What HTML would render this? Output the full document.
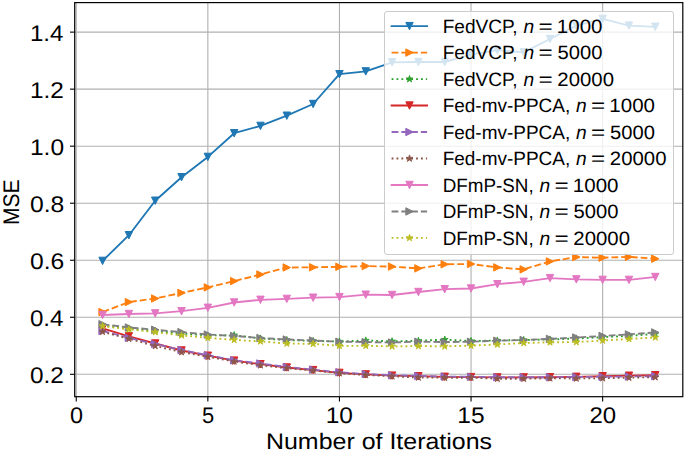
<!DOCTYPE html>
<html><head><meta charset="utf-8"><style>
html,body{margin:0;padding:0;background:#fff;}
body{width:685px;height:452px;overflow:hidden;font-family:"Liberation Sans",sans-serif;}
svg{display:block;}
</style></head><body>
<svg width="685" height="452" viewBox="0 0 685 452" text-rendering="geometricPrecision">
<rect width="685" height="452" fill="#fff"/>
<defs><clipPath id="ax"><rect x="74.7" y="2.6" width="608.0999999999999" height="394.09999999999997"/></clipPath></defs>
<g stroke="#b0b0b0" stroke-width="1.1" clip-path="url(#ax)">
<line x1="76.25" y1="2.6" x2="76.25" y2="396.7"/>
<line x1="207.85" y1="2.6" x2="207.85" y2="396.7"/>
<line x1="339.45" y1="2.6" x2="339.45" y2="396.7"/>
<line x1="471.05" y1="2.6" x2="471.05" y2="396.7"/>
<line x1="602.65" y1="2.6" x2="602.65" y2="396.7"/>
<line x1="74.7" y1="374.3" x2="682.8" y2="374.3"/>
<line x1="74.7" y1="317.27" x2="682.8" y2="317.27"/>
<line x1="74.7" y1="260.24" x2="682.8" y2="260.24"/>
<line x1="74.7" y1="203.21" x2="682.8" y2="203.21"/>
<line x1="74.7" y1="146.18" x2="682.8" y2="146.18"/>
<line x1="74.7" y1="89.15" x2="682.8" y2="89.15"/>
<line x1="74.7" y1="32.12" x2="682.8" y2="32.12"/>
</g>
<g clip-path="url(#ax)">
<path d="M102.57 260.9 L128.89 235.2 L155.21 200.7 L181.53 177.2 L207.85 156.9 L234.17 133.2 L260.49 125.9 L286.81 115.7 L313.13 104 L339.45 74.2 L365.77 71.4 L392.09 62.3 L418.41 62 L444.73 62 L471.05 54.7 L497.37 50.2 L523.69 52.3 L550.01 39 L576.33 25.7 L602.65 18.9 L628.97 25.6 L655.29 26.8" fill="none" stroke="#1f77b4" stroke-width="1.85" stroke-linejoin="round" stroke-linecap="square"/>
<polygon points="102.57,264.6 98.87,257.2 106.27,257.2" fill="#1f77b4" stroke="#1f77b4" stroke-width="1.0" stroke-linejoin="miter"/>
<polygon points="128.89,238.9 125.19,231.5 132.59,231.5" fill="#1f77b4" stroke="#1f77b4" stroke-width="1.0" stroke-linejoin="miter"/>
<polygon points="155.21,204.4 151.51,197 158.91,197" fill="#1f77b4" stroke="#1f77b4" stroke-width="1.0" stroke-linejoin="miter"/>
<polygon points="181.53,180.9 177.83,173.5 185.23,173.5" fill="#1f77b4" stroke="#1f77b4" stroke-width="1.0" stroke-linejoin="miter"/>
<polygon points="207.85,160.6 204.15,153.2 211.55,153.2" fill="#1f77b4" stroke="#1f77b4" stroke-width="1.0" stroke-linejoin="miter"/>
<polygon points="234.17,136.9 230.47,129.5 237.87,129.5" fill="#1f77b4" stroke="#1f77b4" stroke-width="1.0" stroke-linejoin="miter"/>
<polygon points="260.49,129.6 256.79,122.2 264.19,122.2" fill="#1f77b4" stroke="#1f77b4" stroke-width="1.0" stroke-linejoin="miter"/>
<polygon points="286.81,119.4 283.11,112 290.51,112" fill="#1f77b4" stroke="#1f77b4" stroke-width="1.0" stroke-linejoin="miter"/>
<polygon points="313.13,107.7 309.43,100.3 316.83,100.3" fill="#1f77b4" stroke="#1f77b4" stroke-width="1.0" stroke-linejoin="miter"/>
<polygon points="339.45,77.9 335.75,70.5 343.15,70.5" fill="#1f77b4" stroke="#1f77b4" stroke-width="1.0" stroke-linejoin="miter"/>
<polygon points="365.77,75.1 362.07,67.7 369.47,67.7" fill="#1f77b4" stroke="#1f77b4" stroke-width="1.0" stroke-linejoin="miter"/>
<polygon points="392.09,66 388.39,58.6 395.79,58.6" fill="#1f77b4" stroke="#1f77b4" stroke-width="1.0" stroke-linejoin="miter"/>
<polygon points="418.41,65.7 414.71,58.3 422.11,58.3" fill="#1f77b4" stroke="#1f77b4" stroke-width="1.0" stroke-linejoin="miter"/>
<polygon points="444.73,65.7 441.03,58.3 448.43,58.3" fill="#1f77b4" stroke="#1f77b4" stroke-width="1.0" stroke-linejoin="miter"/>
<polygon points="471.05,58.4 467.35,51 474.75,51" fill="#1f77b4" stroke="#1f77b4" stroke-width="1.0" stroke-linejoin="miter"/>
<polygon points="497.37,53.9 493.67,46.5 501.07,46.5" fill="#1f77b4" stroke="#1f77b4" stroke-width="1.0" stroke-linejoin="miter"/>
<polygon points="523.69,56 519.99,48.6 527.39,48.6" fill="#1f77b4" stroke="#1f77b4" stroke-width="1.0" stroke-linejoin="miter"/>
<polygon points="550.01,42.7 546.31,35.3 553.71,35.3" fill="#1f77b4" stroke="#1f77b4" stroke-width="1.0" stroke-linejoin="miter"/>
<polygon points="576.33,29.4 572.63,22 580.03,22" fill="#1f77b4" stroke="#1f77b4" stroke-width="1.0" stroke-linejoin="miter"/>
<polygon points="602.65,22.6 598.95,15.2 606.35,15.2" fill="#1f77b4" stroke="#1f77b4" stroke-width="1.0" stroke-linejoin="miter"/>
<polygon points="628.97,29.3 625.27,21.9 632.67,21.9" fill="#1f77b4" stroke="#1f77b4" stroke-width="1.0" stroke-linejoin="miter"/>
<polygon points="655.29,30.5 651.59,23.1 658.99,23.1" fill="#1f77b4" stroke="#1f77b4" stroke-width="1.0" stroke-linejoin="miter"/>
<path d="M102.57 312 L128.89 302.1 L155.21 298.5 L181.53 292.9 L207.85 287.4 L234.17 281.1 L260.49 274.5 L286.81 267.5 L313.13 267.3 L339.45 266.8 L365.77 266.1 L392.09 266.6 L418.41 268.4 L444.73 264.3 L471.05 264 L497.37 267.4 L523.69 269.4 L550.01 261.4 L576.33 257.1 L602.65 257.7 L628.97 256.9 L655.29 258.7" fill="none" stroke="#ff7f0e" stroke-width="1.85" stroke-linejoin="round" stroke-linecap="butt" stroke-dasharray="6.8 2.95"/>
<polygon points="106.27,312 98.87,308.3 98.87,315.7" fill="#ff7f0e" stroke="#ff7f0e" stroke-width="1.0" stroke-linejoin="miter"/>
<polygon points="132.59,302.1 125.19,298.4 125.19,305.8" fill="#ff7f0e" stroke="#ff7f0e" stroke-width="1.0" stroke-linejoin="miter"/>
<polygon points="158.91,298.5 151.51,294.8 151.51,302.2" fill="#ff7f0e" stroke="#ff7f0e" stroke-width="1.0" stroke-linejoin="miter"/>
<polygon points="185.23,292.9 177.83,289.2 177.83,296.6" fill="#ff7f0e" stroke="#ff7f0e" stroke-width="1.0" stroke-linejoin="miter"/>
<polygon points="211.55,287.4 204.15,283.7 204.15,291.1" fill="#ff7f0e" stroke="#ff7f0e" stroke-width="1.0" stroke-linejoin="miter"/>
<polygon points="237.87,281.1 230.47,277.4 230.47,284.8" fill="#ff7f0e" stroke="#ff7f0e" stroke-width="1.0" stroke-linejoin="miter"/>
<polygon points="264.19,274.5 256.79,270.8 256.79,278.2" fill="#ff7f0e" stroke="#ff7f0e" stroke-width="1.0" stroke-linejoin="miter"/>
<polygon points="290.51,267.5 283.11,263.8 283.11,271.2" fill="#ff7f0e" stroke="#ff7f0e" stroke-width="1.0" stroke-linejoin="miter"/>
<polygon points="316.83,267.3 309.43,263.6 309.43,271" fill="#ff7f0e" stroke="#ff7f0e" stroke-width="1.0" stroke-linejoin="miter"/>
<polygon points="343.15,266.8 335.75,263.1 335.75,270.5" fill="#ff7f0e" stroke="#ff7f0e" stroke-width="1.0" stroke-linejoin="miter"/>
<polygon points="369.47,266.1 362.07,262.4 362.07,269.8" fill="#ff7f0e" stroke="#ff7f0e" stroke-width="1.0" stroke-linejoin="miter"/>
<polygon points="395.79,266.6 388.39,262.9 388.39,270.3" fill="#ff7f0e" stroke="#ff7f0e" stroke-width="1.0" stroke-linejoin="miter"/>
<polygon points="422.11,268.4 414.71,264.7 414.71,272.1" fill="#ff7f0e" stroke="#ff7f0e" stroke-width="1.0" stroke-linejoin="miter"/>
<polygon points="448.43,264.3 441.03,260.6 441.03,268" fill="#ff7f0e" stroke="#ff7f0e" stroke-width="1.0" stroke-linejoin="miter"/>
<polygon points="474.75,264 467.35,260.3 467.35,267.7" fill="#ff7f0e" stroke="#ff7f0e" stroke-width="1.0" stroke-linejoin="miter"/>
<polygon points="501.07,267.4 493.67,263.7 493.67,271.1" fill="#ff7f0e" stroke="#ff7f0e" stroke-width="1.0" stroke-linejoin="miter"/>
<polygon points="527.39,269.4 519.99,265.7 519.99,273.1" fill="#ff7f0e" stroke="#ff7f0e" stroke-width="1.0" stroke-linejoin="miter"/>
<polygon points="553.71,261.4 546.31,257.7 546.31,265.1" fill="#ff7f0e" stroke="#ff7f0e" stroke-width="1.0" stroke-linejoin="miter"/>
<polygon points="580.03,257.1 572.63,253.4 572.63,260.8" fill="#ff7f0e" stroke="#ff7f0e" stroke-width="1.0" stroke-linejoin="miter"/>
<polygon points="606.35,257.7 598.95,254 598.95,261.4" fill="#ff7f0e" stroke="#ff7f0e" stroke-width="1.0" stroke-linejoin="miter"/>
<polygon points="632.67,256.9 625.27,253.2 625.27,260.6" fill="#ff7f0e" stroke="#ff7f0e" stroke-width="1.0" stroke-linejoin="miter"/>
<polygon points="658.99,258.7 651.59,255 651.59,262.4" fill="#ff7f0e" stroke="#ff7f0e" stroke-width="1.0" stroke-linejoin="miter"/>
<path d="M102.57 325.5 L128.89 328.5 L155.21 331 L181.53 333.5 L207.85 335.5 L234.17 335.2 L260.49 338.5 L286.81 340 L313.13 341 L339.45 341.5 L365.77 340.5 L392.09 341.3 L418.41 340.8 L444.73 339.6 L471.05 341 L497.37 340.5 L523.69 340 L550.01 339.5 L576.33 338.5 L602.65 337.2 L628.97 335.8 L655.29 334" fill="none" stroke="#2ca02c" stroke-width="1.85" stroke-linejoin="round" stroke-linecap="butt" stroke-dasharray="1.85 3.05"/>
<polygon points="102.57,321.9 101.76,324.39 99.15,324.39 101.26,325.92 100.45,328.41 102.57,326.88 104.69,328.41 103.88,325.92 105.99,324.39 103.38,324.39" fill="#2ca02c" stroke="#2ca02c" stroke-width="0.9" stroke-linejoin="round"/>
<polygon points="128.89,324.9 128.08,327.39 125.47,327.39 127.58,328.92 126.77,331.41 128.89,329.88 131.01,331.41 130.2,328.92 132.31,327.39 129.7,327.39" fill="#2ca02c" stroke="#2ca02c" stroke-width="0.9" stroke-linejoin="round"/>
<polygon points="155.21,327.4 154.4,329.89 151.79,329.89 153.9,331.42 153.09,333.91 155.21,332.38 157.33,333.91 156.52,331.42 158.63,329.89 156.02,329.89" fill="#2ca02c" stroke="#2ca02c" stroke-width="0.9" stroke-linejoin="round"/>
<polygon points="181.53,329.9 180.72,332.39 178.11,332.39 180.22,333.92 179.41,336.41 181.53,334.88 183.65,336.41 182.84,333.92 184.95,332.39 182.34,332.39" fill="#2ca02c" stroke="#2ca02c" stroke-width="0.9" stroke-linejoin="round"/>
<polygon points="207.85,331.9 207.04,334.39 204.43,334.39 206.54,335.92 205.73,338.41 207.85,336.88 209.97,338.41 209.16,335.92 211.27,334.39 208.66,334.39" fill="#2ca02c" stroke="#2ca02c" stroke-width="0.9" stroke-linejoin="round"/>
<polygon points="234.17,331.6 233.36,334.09 230.75,334.09 232.86,335.62 232.05,338.11 234.17,336.58 236.29,338.11 235.48,335.62 237.59,334.09 234.98,334.09" fill="#2ca02c" stroke="#2ca02c" stroke-width="0.9" stroke-linejoin="round"/>
<polygon points="260.49,334.9 259.68,337.39 257.07,337.39 259.18,338.92 258.37,341.41 260.49,339.88 262.61,341.41 261.8,338.92 263.91,337.39 261.3,337.39" fill="#2ca02c" stroke="#2ca02c" stroke-width="0.9" stroke-linejoin="round"/>
<polygon points="286.81,336.4 286,338.89 283.39,338.89 285.5,340.42 284.69,342.91 286.81,341.38 288.93,342.91 288.12,340.42 290.23,338.89 287.62,338.89" fill="#2ca02c" stroke="#2ca02c" stroke-width="0.9" stroke-linejoin="round"/>
<polygon points="313.13,337.4 312.32,339.89 309.71,339.89 311.82,341.42 311.01,343.91 313.13,342.38 315.25,343.91 314.44,341.42 316.55,339.89 313.94,339.89" fill="#2ca02c" stroke="#2ca02c" stroke-width="0.9" stroke-linejoin="round"/>
<polygon points="339.45,337.9 338.64,340.39 336.03,340.39 338.14,341.92 337.33,344.41 339.45,342.88 341.57,344.41 340.76,341.92 342.87,340.39 340.26,340.39" fill="#2ca02c" stroke="#2ca02c" stroke-width="0.9" stroke-linejoin="round"/>
<polygon points="365.77,336.9 364.96,339.39 362.35,339.39 364.46,340.92 363.65,343.41 365.77,341.88 367.89,343.41 367.08,340.92 369.19,339.39 366.58,339.39" fill="#2ca02c" stroke="#2ca02c" stroke-width="0.9" stroke-linejoin="round"/>
<polygon points="392.09,337.7 391.28,340.19 388.67,340.19 390.78,341.72 389.97,344.21 392.09,342.68 394.21,344.21 393.4,341.72 395.51,340.19 392.9,340.19" fill="#2ca02c" stroke="#2ca02c" stroke-width="0.9" stroke-linejoin="round"/>
<polygon points="418.41,337.2 417.6,339.69 414.99,339.69 417.1,341.22 416.29,343.71 418.41,342.18 420.53,343.71 419.72,341.22 421.83,339.69 419.22,339.69" fill="#2ca02c" stroke="#2ca02c" stroke-width="0.9" stroke-linejoin="round"/>
<polygon points="444.73,336 443.92,338.49 441.31,338.49 443.42,340.02 442.61,342.51 444.73,340.98 446.85,342.51 446.04,340.02 448.15,338.49 445.54,338.49" fill="#2ca02c" stroke="#2ca02c" stroke-width="0.9" stroke-linejoin="round"/>
<polygon points="471.05,337.4 470.24,339.89 467.63,339.89 469.74,341.42 468.93,343.91 471.05,342.38 473.17,343.91 472.36,341.42 474.47,339.89 471.86,339.89" fill="#2ca02c" stroke="#2ca02c" stroke-width="0.9" stroke-linejoin="round"/>
<polygon points="497.37,336.9 496.56,339.39 493.95,339.39 496.06,340.92 495.25,343.41 497.37,341.88 499.49,343.41 498.68,340.92 500.79,339.39 498.18,339.39" fill="#2ca02c" stroke="#2ca02c" stroke-width="0.9" stroke-linejoin="round"/>
<polygon points="523.69,336.4 522.88,338.89 520.27,338.89 522.38,340.42 521.57,342.91 523.69,341.38 525.81,342.91 525,340.42 527.11,338.89 524.5,338.89" fill="#2ca02c" stroke="#2ca02c" stroke-width="0.9" stroke-linejoin="round"/>
<polygon points="550.01,335.9 549.2,338.39 546.59,338.39 548.7,339.92 547.89,342.41 550.01,340.88 552.13,342.41 551.32,339.92 553.43,338.39 550.82,338.39" fill="#2ca02c" stroke="#2ca02c" stroke-width="0.9" stroke-linejoin="round"/>
<polygon points="576.33,334.9 575.52,337.39 572.91,337.39 575.02,338.92 574.21,341.41 576.33,339.88 578.45,341.41 577.64,338.92 579.75,337.39 577.14,337.39" fill="#2ca02c" stroke="#2ca02c" stroke-width="0.9" stroke-linejoin="round"/>
<polygon points="602.65,333.6 601.84,336.09 599.23,336.09 601.34,337.62 600.53,340.11 602.65,338.58 604.77,340.11 603.96,337.62 606.07,336.09 603.46,336.09" fill="#2ca02c" stroke="#2ca02c" stroke-width="0.9" stroke-linejoin="round"/>
<polygon points="628.97,332.2 628.16,334.69 625.55,334.69 627.66,336.22 626.85,338.71 628.97,337.18 631.09,338.71 630.28,336.22 632.39,334.69 629.78,334.69" fill="#2ca02c" stroke="#2ca02c" stroke-width="0.9" stroke-linejoin="round"/>
<polygon points="655.29,330.4 654.48,332.89 651.87,332.89 653.98,334.42 653.17,336.91 655.29,335.38 657.41,336.91 656.6,334.42 658.71,332.89 656.1,332.89" fill="#2ca02c" stroke="#2ca02c" stroke-width="0.9" stroke-linejoin="round"/>
<path d="M102.57 328.5 L128.89 336.3 L155.21 343.5 L181.53 350.5 L207.85 355.7 L234.17 360.6 L260.49 364.2 L286.81 367.5 L313.13 370.1 L339.45 372.9 L365.77 374.4 L392.09 375.6 L418.41 376.2 L444.73 376.8 L471.05 377.1 L497.37 377.4 L523.69 377.4 L550.01 377.2 L576.33 376.8 L602.65 376.2 L628.97 375.7 L655.29 375.2" fill="none" stroke="#d62728" stroke-width="1.85" stroke-linejoin="round" stroke-linecap="square"/>
<polygon points="102.57,332.2 98.87,324.8 106.27,324.8" fill="#d62728" stroke="#d62728" stroke-width="1.0" stroke-linejoin="miter"/>
<polygon points="128.89,340 125.19,332.6 132.59,332.6" fill="#d62728" stroke="#d62728" stroke-width="1.0" stroke-linejoin="miter"/>
<polygon points="155.21,347.2 151.51,339.8 158.91,339.8" fill="#d62728" stroke="#d62728" stroke-width="1.0" stroke-linejoin="miter"/>
<polygon points="181.53,354.2 177.83,346.8 185.23,346.8" fill="#d62728" stroke="#d62728" stroke-width="1.0" stroke-linejoin="miter"/>
<polygon points="207.85,359.4 204.15,352 211.55,352" fill="#d62728" stroke="#d62728" stroke-width="1.0" stroke-linejoin="miter"/>
<polygon points="234.17,364.3 230.47,356.9 237.87,356.9" fill="#d62728" stroke="#d62728" stroke-width="1.0" stroke-linejoin="miter"/>
<polygon points="260.49,367.9 256.79,360.5 264.19,360.5" fill="#d62728" stroke="#d62728" stroke-width="1.0" stroke-linejoin="miter"/>
<polygon points="286.81,371.2 283.11,363.8 290.51,363.8" fill="#d62728" stroke="#d62728" stroke-width="1.0" stroke-linejoin="miter"/>
<polygon points="313.13,373.8 309.43,366.4 316.83,366.4" fill="#d62728" stroke="#d62728" stroke-width="1.0" stroke-linejoin="miter"/>
<polygon points="339.45,376.6 335.75,369.2 343.15,369.2" fill="#d62728" stroke="#d62728" stroke-width="1.0" stroke-linejoin="miter"/>
<polygon points="365.77,378.1 362.07,370.7 369.47,370.7" fill="#d62728" stroke="#d62728" stroke-width="1.0" stroke-linejoin="miter"/>
<polygon points="392.09,379.3 388.39,371.9 395.79,371.9" fill="#d62728" stroke="#d62728" stroke-width="1.0" stroke-linejoin="miter"/>
<polygon points="418.41,379.9 414.71,372.5 422.11,372.5" fill="#d62728" stroke="#d62728" stroke-width="1.0" stroke-linejoin="miter"/>
<polygon points="444.73,380.5 441.03,373.1 448.43,373.1" fill="#d62728" stroke="#d62728" stroke-width="1.0" stroke-linejoin="miter"/>
<polygon points="471.05,380.8 467.35,373.4 474.75,373.4" fill="#d62728" stroke="#d62728" stroke-width="1.0" stroke-linejoin="miter"/>
<polygon points="497.37,381.1 493.67,373.7 501.07,373.7" fill="#d62728" stroke="#d62728" stroke-width="1.0" stroke-linejoin="miter"/>
<polygon points="523.69,381.1 519.99,373.7 527.39,373.7" fill="#d62728" stroke="#d62728" stroke-width="1.0" stroke-linejoin="miter"/>
<polygon points="550.01,380.9 546.31,373.5 553.71,373.5" fill="#d62728" stroke="#d62728" stroke-width="1.0" stroke-linejoin="miter"/>
<polygon points="576.33,380.5 572.63,373.1 580.03,373.1" fill="#d62728" stroke="#d62728" stroke-width="1.0" stroke-linejoin="miter"/>
<polygon points="602.65,379.9 598.95,372.5 606.35,372.5" fill="#d62728" stroke="#d62728" stroke-width="1.0" stroke-linejoin="miter"/>
<polygon points="628.97,379.4 625.27,372 632.67,372" fill="#d62728" stroke="#d62728" stroke-width="1.0" stroke-linejoin="miter"/>
<polygon points="655.29,378.9 651.59,371.5 658.99,371.5" fill="#d62728" stroke="#d62728" stroke-width="1.0" stroke-linejoin="miter"/>
<path d="M102.57 331 L128.89 337.9 L155.21 344 L181.53 350 L207.85 355.2 L234.17 360.3 L260.49 363.5 L286.81 367 L313.13 369.6 L339.45 372.3 L365.77 374 L392.09 375.3 L418.41 376 L444.73 376.5 L471.05 376.8 L497.37 377.2 L523.69 377.3 L550.01 377.2 L576.33 377 L602.65 376.8 L628.97 376.5 L655.29 376.2" fill="none" stroke="#9467bd" stroke-width="1.85" stroke-linejoin="round" stroke-linecap="butt" stroke-dasharray="6.8 2.95"/>
<polygon points="106.27,331 98.87,327.3 98.87,334.7" fill="#9467bd" stroke="#9467bd" stroke-width="1.0" stroke-linejoin="miter"/>
<polygon points="132.59,337.9 125.19,334.2 125.19,341.6" fill="#9467bd" stroke="#9467bd" stroke-width="1.0" stroke-linejoin="miter"/>
<polygon points="158.91,344 151.51,340.3 151.51,347.7" fill="#9467bd" stroke="#9467bd" stroke-width="1.0" stroke-linejoin="miter"/>
<polygon points="185.23,350 177.83,346.3 177.83,353.7" fill="#9467bd" stroke="#9467bd" stroke-width="1.0" stroke-linejoin="miter"/>
<polygon points="211.55,355.2 204.15,351.5 204.15,358.9" fill="#9467bd" stroke="#9467bd" stroke-width="1.0" stroke-linejoin="miter"/>
<polygon points="237.87,360.3 230.47,356.6 230.47,364" fill="#9467bd" stroke="#9467bd" stroke-width="1.0" stroke-linejoin="miter"/>
<polygon points="264.19,363.5 256.79,359.8 256.79,367.2" fill="#9467bd" stroke="#9467bd" stroke-width="1.0" stroke-linejoin="miter"/>
<polygon points="290.51,367 283.11,363.3 283.11,370.7" fill="#9467bd" stroke="#9467bd" stroke-width="1.0" stroke-linejoin="miter"/>
<polygon points="316.83,369.6 309.43,365.9 309.43,373.3" fill="#9467bd" stroke="#9467bd" stroke-width="1.0" stroke-linejoin="miter"/>
<polygon points="343.15,372.3 335.75,368.6 335.75,376" fill="#9467bd" stroke="#9467bd" stroke-width="1.0" stroke-linejoin="miter"/>
<polygon points="369.47,374 362.07,370.3 362.07,377.7" fill="#9467bd" stroke="#9467bd" stroke-width="1.0" stroke-linejoin="miter"/>
<polygon points="395.79,375.3 388.39,371.6 388.39,379" fill="#9467bd" stroke="#9467bd" stroke-width="1.0" stroke-linejoin="miter"/>
<polygon points="422.11,376 414.71,372.3 414.71,379.7" fill="#9467bd" stroke="#9467bd" stroke-width="1.0" stroke-linejoin="miter"/>
<polygon points="448.43,376.5 441.03,372.8 441.03,380.2" fill="#9467bd" stroke="#9467bd" stroke-width="1.0" stroke-linejoin="miter"/>
<polygon points="474.75,376.8 467.35,373.1 467.35,380.5" fill="#9467bd" stroke="#9467bd" stroke-width="1.0" stroke-linejoin="miter"/>
<polygon points="501.07,377.2 493.67,373.5 493.67,380.9" fill="#9467bd" stroke="#9467bd" stroke-width="1.0" stroke-linejoin="miter"/>
<polygon points="527.39,377.3 519.99,373.6 519.99,381" fill="#9467bd" stroke="#9467bd" stroke-width="1.0" stroke-linejoin="miter"/>
<polygon points="553.71,377.2 546.31,373.5 546.31,380.9" fill="#9467bd" stroke="#9467bd" stroke-width="1.0" stroke-linejoin="miter"/>
<polygon points="580.03,377 572.63,373.3 572.63,380.7" fill="#9467bd" stroke="#9467bd" stroke-width="1.0" stroke-linejoin="miter"/>
<polygon points="606.35,376.8 598.95,373.1 598.95,380.5" fill="#9467bd" stroke="#9467bd" stroke-width="1.0" stroke-linejoin="miter"/>
<polygon points="632.67,376.5 625.27,372.8 625.27,380.2" fill="#9467bd" stroke="#9467bd" stroke-width="1.0" stroke-linejoin="miter"/>
<polygon points="658.99,376.2 651.59,372.5 651.59,379.9" fill="#9467bd" stroke="#9467bd" stroke-width="1.0" stroke-linejoin="miter"/>
<path d="M102.57 331.8 L128.89 338.8 L155.21 346 L181.53 352.1 L207.85 356.8 L234.17 361.5 L260.49 365.3 L286.81 368.2 L313.13 370.5 L339.45 373.2 L365.77 375 L392.09 376.3 L418.41 377.5 L444.73 377.7 L471.05 377.7 L497.37 378.7 L523.69 378.7 L550.01 378.3 L576.33 378.5 L602.65 378.2 L628.97 377.7 L655.29 377.2" fill="none" stroke="#8c564b" stroke-width="1.85" stroke-linejoin="round" stroke-linecap="butt" stroke-dasharray="1.85 3.05"/>
<polygon points="102.57,328.2 101.76,330.69 99.15,330.69 101.26,332.22 100.45,334.71 102.57,333.18 104.69,334.71 103.88,332.22 105.99,330.69 103.38,330.69" fill="#8c564b" stroke="#8c564b" stroke-width="0.9" stroke-linejoin="round"/>
<polygon points="128.89,335.2 128.08,337.69 125.47,337.69 127.58,339.22 126.77,341.71 128.89,340.18 131.01,341.71 130.2,339.22 132.31,337.69 129.7,337.69" fill="#8c564b" stroke="#8c564b" stroke-width="0.9" stroke-linejoin="round"/>
<polygon points="155.21,342.4 154.4,344.89 151.79,344.89 153.9,346.42 153.09,348.91 155.21,347.38 157.33,348.91 156.52,346.42 158.63,344.89 156.02,344.89" fill="#8c564b" stroke="#8c564b" stroke-width="0.9" stroke-linejoin="round"/>
<polygon points="181.53,348.5 180.72,350.99 178.11,350.99 180.22,352.52 179.41,355.01 181.53,353.48 183.65,355.01 182.84,352.52 184.95,350.99 182.34,350.99" fill="#8c564b" stroke="#8c564b" stroke-width="0.9" stroke-linejoin="round"/>
<polygon points="207.85,353.2 207.04,355.69 204.43,355.69 206.54,357.22 205.73,359.71 207.85,358.18 209.97,359.71 209.16,357.22 211.27,355.69 208.66,355.69" fill="#8c564b" stroke="#8c564b" stroke-width="0.9" stroke-linejoin="round"/>
<polygon points="234.17,357.9 233.36,360.39 230.75,360.39 232.86,361.92 232.05,364.41 234.17,362.88 236.29,364.41 235.48,361.92 237.59,360.39 234.98,360.39" fill="#8c564b" stroke="#8c564b" stroke-width="0.9" stroke-linejoin="round"/>
<polygon points="260.49,361.7 259.68,364.19 257.07,364.19 259.18,365.72 258.37,368.21 260.49,366.68 262.61,368.21 261.8,365.72 263.91,364.19 261.3,364.19" fill="#8c564b" stroke="#8c564b" stroke-width="0.9" stroke-linejoin="round"/>
<polygon points="286.81,364.6 286,367.09 283.39,367.09 285.5,368.62 284.69,371.11 286.81,369.58 288.93,371.11 288.12,368.62 290.23,367.09 287.62,367.09" fill="#8c564b" stroke="#8c564b" stroke-width="0.9" stroke-linejoin="round"/>
<polygon points="313.13,366.9 312.32,369.39 309.71,369.39 311.82,370.92 311.01,373.41 313.13,371.88 315.25,373.41 314.44,370.92 316.55,369.39 313.94,369.39" fill="#8c564b" stroke="#8c564b" stroke-width="0.9" stroke-linejoin="round"/>
<polygon points="339.45,369.6 338.64,372.09 336.03,372.09 338.14,373.62 337.33,376.11 339.45,374.58 341.57,376.11 340.76,373.62 342.87,372.09 340.26,372.09" fill="#8c564b" stroke="#8c564b" stroke-width="0.9" stroke-linejoin="round"/>
<polygon points="365.77,371.4 364.96,373.89 362.35,373.89 364.46,375.42 363.65,377.91 365.77,376.38 367.89,377.91 367.08,375.42 369.19,373.89 366.58,373.89" fill="#8c564b" stroke="#8c564b" stroke-width="0.9" stroke-linejoin="round"/>
<polygon points="392.09,372.7 391.28,375.19 388.67,375.19 390.78,376.72 389.97,379.21 392.09,377.68 394.21,379.21 393.4,376.72 395.51,375.19 392.9,375.19" fill="#8c564b" stroke="#8c564b" stroke-width="0.9" stroke-linejoin="round"/>
<polygon points="418.41,373.9 417.6,376.39 414.99,376.39 417.1,377.92 416.29,380.41 418.41,378.88 420.53,380.41 419.72,377.92 421.83,376.39 419.22,376.39" fill="#8c564b" stroke="#8c564b" stroke-width="0.9" stroke-linejoin="round"/>
<polygon points="444.73,374.1 443.92,376.59 441.31,376.59 443.42,378.12 442.61,380.61 444.73,379.08 446.85,380.61 446.04,378.12 448.15,376.59 445.54,376.59" fill="#8c564b" stroke="#8c564b" stroke-width="0.9" stroke-linejoin="round"/>
<polygon points="471.05,374.1 470.24,376.59 467.63,376.59 469.74,378.12 468.93,380.61 471.05,379.08 473.17,380.61 472.36,378.12 474.47,376.59 471.86,376.59" fill="#8c564b" stroke="#8c564b" stroke-width="0.9" stroke-linejoin="round"/>
<polygon points="497.37,375.1 496.56,377.59 493.95,377.59 496.06,379.12 495.25,381.61 497.37,380.08 499.49,381.61 498.68,379.12 500.79,377.59 498.18,377.59" fill="#8c564b" stroke="#8c564b" stroke-width="0.9" stroke-linejoin="round"/>
<polygon points="523.69,375.1 522.88,377.59 520.27,377.59 522.38,379.12 521.57,381.61 523.69,380.08 525.81,381.61 525,379.12 527.11,377.59 524.5,377.59" fill="#8c564b" stroke="#8c564b" stroke-width="0.9" stroke-linejoin="round"/>
<polygon points="550.01,374.7 549.2,377.19 546.59,377.19 548.7,378.72 547.89,381.21 550.01,379.68 552.13,381.21 551.32,378.72 553.43,377.19 550.82,377.19" fill="#8c564b" stroke="#8c564b" stroke-width="0.9" stroke-linejoin="round"/>
<polygon points="576.33,374.9 575.52,377.39 572.91,377.39 575.02,378.92 574.21,381.41 576.33,379.88 578.45,381.41 577.64,378.92 579.75,377.39 577.14,377.39" fill="#8c564b" stroke="#8c564b" stroke-width="0.9" stroke-linejoin="round"/>
<polygon points="602.65,374.6 601.84,377.09 599.23,377.09 601.34,378.62 600.53,381.11 602.65,379.58 604.77,381.11 603.96,378.62 606.07,377.09 603.46,377.09" fill="#8c564b" stroke="#8c564b" stroke-width="0.9" stroke-linejoin="round"/>
<polygon points="628.97,374.1 628.16,376.59 625.55,376.59 627.66,378.12 626.85,380.61 628.97,379.08 631.09,380.61 630.28,378.12 632.39,376.59 629.78,376.59" fill="#8c564b" stroke="#8c564b" stroke-width="0.9" stroke-linejoin="round"/>
<polygon points="655.29,373.6 654.48,376.09 651.87,376.09 653.98,377.62 653.17,380.11 655.29,378.58 657.41,380.11 656.6,377.62 658.71,376.09 656.1,376.09" fill="#8c564b" stroke="#8c564b" stroke-width="0.9" stroke-linejoin="round"/>
<path d="M102.57 315 L128.89 314 L155.21 313.4 L181.53 311.2 L207.85 307.8 L234.17 302.5 L260.49 299.8 L286.81 298.9 L313.13 297.7 L339.45 297.1 L365.77 294.7 L392.09 295 L418.41 292 L444.73 289.2 L471.05 288.5 L497.37 284.2 L523.69 281.8 L550.01 278.1 L576.33 279.4 L602.65 279.9 L628.97 279.9 L655.29 277" fill="none" stroke="#e377c2" stroke-width="1.85" stroke-linejoin="round" stroke-linecap="square"/>
<polygon points="102.57,318.7 98.87,311.3 106.27,311.3" fill="#e377c2" stroke="#e377c2" stroke-width="1.0" stroke-linejoin="miter"/>
<polygon points="128.89,317.7 125.19,310.3 132.59,310.3" fill="#e377c2" stroke="#e377c2" stroke-width="1.0" stroke-linejoin="miter"/>
<polygon points="155.21,317.1 151.51,309.7 158.91,309.7" fill="#e377c2" stroke="#e377c2" stroke-width="1.0" stroke-linejoin="miter"/>
<polygon points="181.53,314.9 177.83,307.5 185.23,307.5" fill="#e377c2" stroke="#e377c2" stroke-width="1.0" stroke-linejoin="miter"/>
<polygon points="207.85,311.5 204.15,304.1 211.55,304.1" fill="#e377c2" stroke="#e377c2" stroke-width="1.0" stroke-linejoin="miter"/>
<polygon points="234.17,306.2 230.47,298.8 237.87,298.8" fill="#e377c2" stroke="#e377c2" stroke-width="1.0" stroke-linejoin="miter"/>
<polygon points="260.49,303.5 256.79,296.1 264.19,296.1" fill="#e377c2" stroke="#e377c2" stroke-width="1.0" stroke-linejoin="miter"/>
<polygon points="286.81,302.6 283.11,295.2 290.51,295.2" fill="#e377c2" stroke="#e377c2" stroke-width="1.0" stroke-linejoin="miter"/>
<polygon points="313.13,301.4 309.43,294 316.83,294" fill="#e377c2" stroke="#e377c2" stroke-width="1.0" stroke-linejoin="miter"/>
<polygon points="339.45,300.8 335.75,293.4 343.15,293.4" fill="#e377c2" stroke="#e377c2" stroke-width="1.0" stroke-linejoin="miter"/>
<polygon points="365.77,298.4 362.07,291 369.47,291" fill="#e377c2" stroke="#e377c2" stroke-width="1.0" stroke-linejoin="miter"/>
<polygon points="392.09,298.7 388.39,291.3 395.79,291.3" fill="#e377c2" stroke="#e377c2" stroke-width="1.0" stroke-linejoin="miter"/>
<polygon points="418.41,295.7 414.71,288.3 422.11,288.3" fill="#e377c2" stroke="#e377c2" stroke-width="1.0" stroke-linejoin="miter"/>
<polygon points="444.73,292.9 441.03,285.5 448.43,285.5" fill="#e377c2" stroke="#e377c2" stroke-width="1.0" stroke-linejoin="miter"/>
<polygon points="471.05,292.2 467.35,284.8 474.75,284.8" fill="#e377c2" stroke="#e377c2" stroke-width="1.0" stroke-linejoin="miter"/>
<polygon points="497.37,287.9 493.67,280.5 501.07,280.5" fill="#e377c2" stroke="#e377c2" stroke-width="1.0" stroke-linejoin="miter"/>
<polygon points="523.69,285.5 519.99,278.1 527.39,278.1" fill="#e377c2" stroke="#e377c2" stroke-width="1.0" stroke-linejoin="miter"/>
<polygon points="550.01,281.8 546.31,274.4 553.71,274.4" fill="#e377c2" stroke="#e377c2" stroke-width="1.0" stroke-linejoin="miter"/>
<polygon points="576.33,283.1 572.63,275.7 580.03,275.7" fill="#e377c2" stroke="#e377c2" stroke-width="1.0" stroke-linejoin="miter"/>
<polygon points="602.65,283.6 598.95,276.2 606.35,276.2" fill="#e377c2" stroke="#e377c2" stroke-width="1.0" stroke-linejoin="miter"/>
<polygon points="628.97,283.6 625.27,276.2 632.67,276.2" fill="#e377c2" stroke="#e377c2" stroke-width="1.0" stroke-linejoin="miter"/>
<polygon points="655.29,280.7 651.59,273.3 658.99,273.3" fill="#e377c2" stroke="#e377c2" stroke-width="1.0" stroke-linejoin="miter"/>
<path d="M102.57 324.2 L128.89 327.5 L155.21 329.7 L181.53 332.1 L207.85 334.5 L234.17 335.9 L260.49 338 L286.81 339.5 L313.13 340.5 L339.45 341.7 L365.77 342.1 L392.09 342.5 L418.41 341.7 L444.73 342.1 L471.05 341.7 L497.37 340.7 L523.69 340 L550.01 338.9 L576.33 337.5 L602.65 335.9 L628.97 334.4 L655.29 332.4" fill="none" stroke="#7f7f7f" stroke-width="1.85" stroke-linejoin="round" stroke-linecap="butt" stroke-dasharray="6.8 2.95"/>
<polygon points="106.27,324.2 98.87,320.5 98.87,327.9" fill="#7f7f7f" stroke="#7f7f7f" stroke-width="1.0" stroke-linejoin="miter"/>
<polygon points="132.59,327.5 125.19,323.8 125.19,331.2" fill="#7f7f7f" stroke="#7f7f7f" stroke-width="1.0" stroke-linejoin="miter"/>
<polygon points="158.91,329.7 151.51,326 151.51,333.4" fill="#7f7f7f" stroke="#7f7f7f" stroke-width="1.0" stroke-linejoin="miter"/>
<polygon points="185.23,332.1 177.83,328.4 177.83,335.8" fill="#7f7f7f" stroke="#7f7f7f" stroke-width="1.0" stroke-linejoin="miter"/>
<polygon points="211.55,334.5 204.15,330.8 204.15,338.2" fill="#7f7f7f" stroke="#7f7f7f" stroke-width="1.0" stroke-linejoin="miter"/>
<polygon points="237.87,335.9 230.47,332.2 230.47,339.6" fill="#7f7f7f" stroke="#7f7f7f" stroke-width="1.0" stroke-linejoin="miter"/>
<polygon points="264.19,338 256.79,334.3 256.79,341.7" fill="#7f7f7f" stroke="#7f7f7f" stroke-width="1.0" stroke-linejoin="miter"/>
<polygon points="290.51,339.5 283.11,335.8 283.11,343.2" fill="#7f7f7f" stroke="#7f7f7f" stroke-width="1.0" stroke-linejoin="miter"/>
<polygon points="316.83,340.5 309.43,336.8 309.43,344.2" fill="#7f7f7f" stroke="#7f7f7f" stroke-width="1.0" stroke-linejoin="miter"/>
<polygon points="343.15,341.7 335.75,338 335.75,345.4" fill="#7f7f7f" stroke="#7f7f7f" stroke-width="1.0" stroke-linejoin="miter"/>
<polygon points="369.47,342.1 362.07,338.4 362.07,345.8" fill="#7f7f7f" stroke="#7f7f7f" stroke-width="1.0" stroke-linejoin="miter"/>
<polygon points="395.79,342.5 388.39,338.8 388.39,346.2" fill="#7f7f7f" stroke="#7f7f7f" stroke-width="1.0" stroke-linejoin="miter"/>
<polygon points="422.11,341.7 414.71,338 414.71,345.4" fill="#7f7f7f" stroke="#7f7f7f" stroke-width="1.0" stroke-linejoin="miter"/>
<polygon points="448.43,342.1 441.03,338.4 441.03,345.8" fill="#7f7f7f" stroke="#7f7f7f" stroke-width="1.0" stroke-linejoin="miter"/>
<polygon points="474.75,341.7 467.35,338 467.35,345.4" fill="#7f7f7f" stroke="#7f7f7f" stroke-width="1.0" stroke-linejoin="miter"/>
<polygon points="501.07,340.7 493.67,337 493.67,344.4" fill="#7f7f7f" stroke="#7f7f7f" stroke-width="1.0" stroke-linejoin="miter"/>
<polygon points="527.39,340 519.99,336.3 519.99,343.7" fill="#7f7f7f" stroke="#7f7f7f" stroke-width="1.0" stroke-linejoin="miter"/>
<polygon points="553.71,338.9 546.31,335.2 546.31,342.6" fill="#7f7f7f" stroke="#7f7f7f" stroke-width="1.0" stroke-linejoin="miter"/>
<polygon points="580.03,337.5 572.63,333.8 572.63,341.2" fill="#7f7f7f" stroke="#7f7f7f" stroke-width="1.0" stroke-linejoin="miter"/>
<polygon points="606.35,335.9 598.95,332.2 598.95,339.6" fill="#7f7f7f" stroke="#7f7f7f" stroke-width="1.0" stroke-linejoin="miter"/>
<polygon points="632.67,334.4 625.27,330.7 625.27,338.1" fill="#7f7f7f" stroke="#7f7f7f" stroke-width="1.0" stroke-linejoin="miter"/>
<polygon points="658.99,332.4 651.59,328.7 651.59,336.1" fill="#7f7f7f" stroke="#7f7f7f" stroke-width="1.0" stroke-linejoin="miter"/>
<path d="M102.57 326.1 L128.89 329.4 L155.21 332.1 L181.53 335.4 L207.85 337.8 L234.17 339.9 L260.49 341.4 L286.81 343.5 L313.13 343.9 L339.45 345.8 L365.77 345.8 L392.09 346.4 L418.41 346.1 L444.73 346.4 L471.05 345.6 L497.37 344.5 L523.69 343 L550.01 342.3 L576.33 342.1 L602.65 340.5 L628.97 339 L655.29 337.4" fill="none" stroke="#bcbd22" stroke-width="1.85" stroke-linejoin="round" stroke-linecap="butt" stroke-dasharray="1.85 3.05"/>
<polygon points="102.57,322.5 101.76,324.99 99.15,324.99 101.26,326.52 100.45,329.01 102.57,327.48 104.69,329.01 103.88,326.52 105.99,324.99 103.38,324.99" fill="#bcbd22" stroke="#bcbd22" stroke-width="0.9" stroke-linejoin="round"/>
<polygon points="128.89,325.8 128.08,328.29 125.47,328.29 127.58,329.82 126.77,332.31 128.89,330.78 131.01,332.31 130.2,329.82 132.31,328.29 129.7,328.29" fill="#bcbd22" stroke="#bcbd22" stroke-width="0.9" stroke-linejoin="round"/>
<polygon points="155.21,328.5 154.4,330.99 151.79,330.99 153.9,332.52 153.09,335.01 155.21,333.48 157.33,335.01 156.52,332.52 158.63,330.99 156.02,330.99" fill="#bcbd22" stroke="#bcbd22" stroke-width="0.9" stroke-linejoin="round"/>
<polygon points="181.53,331.8 180.72,334.29 178.11,334.29 180.22,335.82 179.41,338.31 181.53,336.78 183.65,338.31 182.84,335.82 184.95,334.29 182.34,334.29" fill="#bcbd22" stroke="#bcbd22" stroke-width="0.9" stroke-linejoin="round"/>
<polygon points="207.85,334.2 207.04,336.69 204.43,336.69 206.54,338.22 205.73,340.71 207.85,339.18 209.97,340.71 209.16,338.22 211.27,336.69 208.66,336.69" fill="#bcbd22" stroke="#bcbd22" stroke-width="0.9" stroke-linejoin="round"/>
<polygon points="234.17,336.3 233.36,338.79 230.75,338.79 232.86,340.32 232.05,342.81 234.17,341.28 236.29,342.81 235.48,340.32 237.59,338.79 234.98,338.79" fill="#bcbd22" stroke="#bcbd22" stroke-width="0.9" stroke-linejoin="round"/>
<polygon points="260.49,337.8 259.68,340.29 257.07,340.29 259.18,341.82 258.37,344.31 260.49,342.78 262.61,344.31 261.8,341.82 263.91,340.29 261.3,340.29" fill="#bcbd22" stroke="#bcbd22" stroke-width="0.9" stroke-linejoin="round"/>
<polygon points="286.81,339.9 286,342.39 283.39,342.39 285.5,343.92 284.69,346.41 286.81,344.88 288.93,346.41 288.12,343.92 290.23,342.39 287.62,342.39" fill="#bcbd22" stroke="#bcbd22" stroke-width="0.9" stroke-linejoin="round"/>
<polygon points="313.13,340.3 312.32,342.79 309.71,342.79 311.82,344.32 311.01,346.81 313.13,345.28 315.25,346.81 314.44,344.32 316.55,342.79 313.94,342.79" fill="#bcbd22" stroke="#bcbd22" stroke-width="0.9" stroke-linejoin="round"/>
<polygon points="339.45,342.2 338.64,344.69 336.03,344.69 338.14,346.22 337.33,348.71 339.45,347.18 341.57,348.71 340.76,346.22 342.87,344.69 340.26,344.69" fill="#bcbd22" stroke="#bcbd22" stroke-width="0.9" stroke-linejoin="round"/>
<polygon points="365.77,342.2 364.96,344.69 362.35,344.69 364.46,346.22 363.65,348.71 365.77,347.18 367.89,348.71 367.08,346.22 369.19,344.69 366.58,344.69" fill="#bcbd22" stroke="#bcbd22" stroke-width="0.9" stroke-linejoin="round"/>
<polygon points="392.09,342.8 391.28,345.29 388.67,345.29 390.78,346.82 389.97,349.31 392.09,347.78 394.21,349.31 393.4,346.82 395.51,345.29 392.9,345.29" fill="#bcbd22" stroke="#bcbd22" stroke-width="0.9" stroke-linejoin="round"/>
<polygon points="418.41,342.5 417.6,344.99 414.99,344.99 417.1,346.52 416.29,349.01 418.41,347.48 420.53,349.01 419.72,346.52 421.83,344.99 419.22,344.99" fill="#bcbd22" stroke="#bcbd22" stroke-width="0.9" stroke-linejoin="round"/>
<polygon points="444.73,342.8 443.92,345.29 441.31,345.29 443.42,346.82 442.61,349.31 444.73,347.78 446.85,349.31 446.04,346.82 448.15,345.29 445.54,345.29" fill="#bcbd22" stroke="#bcbd22" stroke-width="0.9" stroke-linejoin="round"/>
<polygon points="471.05,342 470.24,344.49 467.63,344.49 469.74,346.02 468.93,348.51 471.05,346.98 473.17,348.51 472.36,346.02 474.47,344.49 471.86,344.49" fill="#bcbd22" stroke="#bcbd22" stroke-width="0.9" stroke-linejoin="round"/>
<polygon points="497.37,340.9 496.56,343.39 493.95,343.39 496.06,344.92 495.25,347.41 497.37,345.88 499.49,347.41 498.68,344.92 500.79,343.39 498.18,343.39" fill="#bcbd22" stroke="#bcbd22" stroke-width="0.9" stroke-linejoin="round"/>
<polygon points="523.69,339.4 522.88,341.89 520.27,341.89 522.38,343.42 521.57,345.91 523.69,344.38 525.81,345.91 525,343.42 527.11,341.89 524.5,341.89" fill="#bcbd22" stroke="#bcbd22" stroke-width="0.9" stroke-linejoin="round"/>
<polygon points="550.01,338.7 549.2,341.19 546.59,341.19 548.7,342.72 547.89,345.21 550.01,343.68 552.13,345.21 551.32,342.72 553.43,341.19 550.82,341.19" fill="#bcbd22" stroke="#bcbd22" stroke-width="0.9" stroke-linejoin="round"/>
<polygon points="576.33,338.5 575.52,340.99 572.91,340.99 575.02,342.52 574.21,345.01 576.33,343.48 578.45,345.01 577.64,342.52 579.75,340.99 577.14,340.99" fill="#bcbd22" stroke="#bcbd22" stroke-width="0.9" stroke-linejoin="round"/>
<polygon points="602.65,336.9 601.84,339.39 599.23,339.39 601.34,340.92 600.53,343.41 602.65,341.88 604.77,343.41 603.96,340.92 606.07,339.39 603.46,339.39" fill="#bcbd22" stroke="#bcbd22" stroke-width="0.9" stroke-linejoin="round"/>
<polygon points="628.97,335.4 628.16,337.89 625.55,337.89 627.66,339.42 626.85,341.91 628.97,340.38 631.09,341.91 630.28,339.42 632.39,337.89 629.78,337.89" fill="#bcbd22" stroke="#bcbd22" stroke-width="0.9" stroke-linejoin="round"/>
<polygon points="655.29,333.8 654.48,336.29 651.87,336.29 653.98,337.82 653.17,340.31 655.29,338.78 657.41,340.31 656.6,337.82 658.71,336.29 656.1,336.29" fill="#bcbd22" stroke="#bcbd22" stroke-width="0.9" stroke-linejoin="round"/>
</g>
<rect x="74.7" y="2.6" width="608.1" height="394.1" fill="none" stroke="#000" stroke-width="1.2"/>
<g stroke="#000" stroke-width="1.1">
<line x1="76.25" y1="396.7" x2="76.25" y2="401.4"/>
<line x1="207.85" y1="396.7" x2="207.85" y2="401.4"/>
<line x1="339.45" y1="396.7" x2="339.45" y2="401.4"/>
<line x1="471.05" y1="396.7" x2="471.05" y2="401.4"/>
<line x1="602.65" y1="396.7" x2="602.65" y2="401.4"/>
<line x1="74.7" y1="374.3" x2="70" y2="374.3"/>
<line x1="74.7" y1="317.27" x2="70" y2="317.27"/>
<line x1="74.7" y1="260.24" x2="70" y2="260.24"/>
<line x1="74.7" y1="203.21" x2="70" y2="203.21"/>
<line x1="74.7" y1="146.18" x2="70" y2="146.18"/>
<line x1="74.7" y1="89.15" x2="70" y2="89.15"/>
<line x1="74.7" y1="32.12" x2="70" y2="32.12"/>
</g>
<g font-family="Liberation Sans, sans-serif" fill="#000">
<text x="29.95" y="383.1" font-size="22.6" textLength="33.88" lengthAdjust="spacingAndGlyphs">0.2</text>
<text x="29.96" y="326.07" font-size="22.6" textLength="33.55" lengthAdjust="spacingAndGlyphs">0.4</text>
<text x="29.94" y="269.04" font-size="22.6" textLength="34.24" lengthAdjust="spacingAndGlyphs">0.6</text>
<text x="29.94" y="212.01" font-size="22.6" textLength="34.34" lengthAdjust="spacingAndGlyphs">0.8</text>
<text x="29.93" y="154.98" font-size="22.6" textLength="34.13" lengthAdjust="spacingAndGlyphs">1.0</text>
<text x="29.94" y="97.95" font-size="22.6" textLength="33.88" lengthAdjust="spacingAndGlyphs">1.2</text>
<text x="29.96" y="40.92" font-size="22.6" textLength="33.55" lengthAdjust="spacingAndGlyphs">1.4</text>
<text x="70.03" y="423.4" font-size="22.6" textLength="13.03" lengthAdjust="spacingAndGlyphs">0</text>
<text x="202.07" y="423.4" font-size="22.6" textLength="12.2" lengthAdjust="spacingAndGlyphs">5</text>
<text x="325.69" y="423.4" font-size="22.6" textLength="27.22" lengthAdjust="spacingAndGlyphs">10</text>
<text x="457.28" y="423.4" font-size="22.6" textLength="27.3" lengthAdjust="spacingAndGlyphs">15</text>
<text x="589.5" y="423.4" font-size="22.6" textLength="26.64" lengthAdjust="spacingAndGlyphs">20</text>
<text x="265.95" y="448.6" font-size="22.6" textLength="226.15" lengthAdjust="spacingAndGlyphs">Number of Iterations</text>
<g transform="translate(19.1,223.4) rotate(-90)"><text x="-1.73" y="0" font-size="22.6" textLength="45.63" lengthAdjust="spacingAndGlyphs">MSE</text></g>
</g>
<rect x="384.5" y="11.5" width="289" height="243" rx="2.5" ry="2.5" fill="#fff" fill-opacity="0.8" stroke="#cccccc" stroke-width="1"/>
<g font-family="Liberation Sans, sans-serif" fill="#000">
<path d="M391.6 26.1 L427.1 26.1" fill="none" stroke="#1f77b4" stroke-width="1.85" stroke-linejoin="round" stroke-linecap="square"/>
<polygon points="409.5,29.8 405.8,22.4 413.2,22.4" fill="#1f77b4" stroke="#1f77b4" stroke-width="1.0" stroke-linejoin="miter"/>
<text x="442.68" y="32.7" font-size="19.3" textLength="74.98" lengthAdjust="spacingAndGlyphs">FedVCP,</text>
<text x="523.38" y="32.7" font-size="19.3" textLength="10.69" lengthAdjust="spacingAndGlyphs" font-style="italic">n</text>
<text x="538.51" y="32.7" font-size="19.3" textLength="14.18" lengthAdjust="spacingAndGlyphs">=</text>
<text x="556.84" y="32.7" font-size="19.3" textLength="45.67" lengthAdjust="spacingAndGlyphs">1000</text>
<path d="M391.6 52.58 L427.1 52.58" fill="none" stroke="#ff7f0e" stroke-width="1.85" stroke-linejoin="round" stroke-linecap="butt" stroke-dasharray="6.8 2.95"/>
<polygon points="413.2,52.58 405.8,48.88 405.8,56.28" fill="#ff7f0e" stroke="#ff7f0e" stroke-width="1.0" stroke-linejoin="miter"/>
<text x="442.68" y="59.18" font-size="19.3" textLength="74.98" lengthAdjust="spacingAndGlyphs">FedVCP,</text>
<text x="523.38" y="59.18" font-size="19.3" textLength="10.69" lengthAdjust="spacingAndGlyphs" font-style="italic">n</text>
<text x="538.51" y="59.18" font-size="19.3" textLength="14.18" lengthAdjust="spacingAndGlyphs">=</text>
<text x="557.59" y="59.18" font-size="19.3" textLength="44.9" lengthAdjust="spacingAndGlyphs">5000</text>
<path d="M391.6 79.06 L427.1 79.06" fill="none" stroke="#2ca02c" stroke-width="1.85" stroke-linejoin="round" stroke-linecap="butt" stroke-dasharray="1.85 3.05"/>
<polygon points="409.5,75.46 408.69,77.95 406.08,77.95 408.19,79.48 407.38,81.97 409.5,80.44 411.62,81.97 410.81,79.48 412.92,77.95 410.31,77.95" fill="#2ca02c" stroke="#2ca02c" stroke-width="0.9" stroke-linejoin="round"/>
<text x="442.68" y="85.66" font-size="19.3" textLength="74.98" lengthAdjust="spacingAndGlyphs">FedVCP,</text>
<text x="523.38" y="85.66" font-size="19.3" textLength="10.69" lengthAdjust="spacingAndGlyphs" font-style="italic">n</text>
<text x="538.51" y="85.66" font-size="19.3" textLength="14.18" lengthAdjust="spacingAndGlyphs">=</text>
<text x="557.38" y="85.66" font-size="19.3" textLength="56.62" lengthAdjust="spacingAndGlyphs">20000</text>
<path d="M391.6 105.54 L427.1 105.54" fill="none" stroke="#d62728" stroke-width="1.85" stroke-linejoin="round" stroke-linecap="square"/>
<polygon points="409.5,109.24 405.8,101.84 413.2,101.84" fill="#d62728" stroke="#d62728" stroke-width="1.0" stroke-linejoin="miter"/>
<text x="442.64" y="112.14" font-size="19.3" textLength="127.56" lengthAdjust="spacingAndGlyphs">Fed-mv-PPCA,</text>
<text x="575.88" y="112.14" font-size="19.3" textLength="10.69" lengthAdjust="spacingAndGlyphs" font-style="italic">n</text>
<text x="591.01" y="112.14" font-size="19.3" textLength="14.18" lengthAdjust="spacingAndGlyphs">=</text>
<text x="609.34" y="112.14" font-size="19.3" textLength="45.67" lengthAdjust="spacingAndGlyphs">1000</text>
<path d="M391.6 132.02 L427.1 132.02" fill="none" stroke="#9467bd" stroke-width="1.85" stroke-linejoin="round" stroke-linecap="butt" stroke-dasharray="6.8 2.95"/>
<polygon points="413.2,132.02 405.8,128.32 405.8,135.72" fill="#9467bd" stroke="#9467bd" stroke-width="1.0" stroke-linejoin="miter"/>
<text x="442.64" y="138.62" font-size="19.3" textLength="127.56" lengthAdjust="spacingAndGlyphs">Fed-mv-PPCA,</text>
<text x="575.88" y="138.62" font-size="19.3" textLength="10.69" lengthAdjust="spacingAndGlyphs" font-style="italic">n</text>
<text x="591.01" y="138.62" font-size="19.3" textLength="14.18" lengthAdjust="spacingAndGlyphs">=</text>
<text x="610.09" y="138.62" font-size="19.3" textLength="44.9" lengthAdjust="spacingAndGlyphs">5000</text>
<path d="M391.6 158.5 L427.1 158.5" fill="none" stroke="#8c564b" stroke-width="1.85" stroke-linejoin="round" stroke-linecap="butt" stroke-dasharray="1.85 3.05"/>
<polygon points="409.5,154.9 408.69,157.39 406.08,157.39 408.19,158.92 407.38,161.41 409.5,159.88 411.62,161.41 410.81,158.92 412.92,157.39 410.31,157.39" fill="#8c564b" stroke="#8c564b" stroke-width="0.9" stroke-linejoin="round"/>
<text x="442.64" y="165.1" font-size="19.3" textLength="127.56" lengthAdjust="spacingAndGlyphs">Fed-mv-PPCA,</text>
<text x="575.88" y="165.1" font-size="19.3" textLength="10.69" lengthAdjust="spacingAndGlyphs" font-style="italic">n</text>
<text x="591.01" y="165.1" font-size="19.3" textLength="14.18" lengthAdjust="spacingAndGlyphs">=</text>
<text x="609.88" y="165.1" font-size="19.3" textLength="56.62" lengthAdjust="spacingAndGlyphs">20000</text>
<path d="M391.6 184.98 L427.1 184.98" fill="none" stroke="#e377c2" stroke-width="1.85" stroke-linejoin="round" stroke-linecap="square"/>
<polygon points="409.5,188.68 405.8,181.28 413.2,181.28" fill="#e377c2" stroke="#e377c2" stroke-width="1.0" stroke-linejoin="miter"/>
<text x="442.65" y="191.58" font-size="19.3" textLength="91.04" lengthAdjust="spacingAndGlyphs">DFmP-SN,</text>
<text x="539.38" y="191.58" font-size="19.3" textLength="10.69" lengthAdjust="spacingAndGlyphs" font-style="italic">n</text>
<text x="554.51" y="191.58" font-size="19.3" textLength="14.18" lengthAdjust="spacingAndGlyphs">=</text>
<text x="572.84" y="191.58" font-size="19.3" textLength="45.67" lengthAdjust="spacingAndGlyphs">1000</text>
<path d="M391.6 211.46 L427.1 211.46" fill="none" stroke="#7f7f7f" stroke-width="1.85" stroke-linejoin="round" stroke-linecap="butt" stroke-dasharray="6.8 2.95"/>
<polygon points="413.2,211.46 405.8,207.76 405.8,215.16" fill="#7f7f7f" stroke="#7f7f7f" stroke-width="1.0" stroke-linejoin="miter"/>
<text x="442.65" y="218.06" font-size="19.3" textLength="91.04" lengthAdjust="spacingAndGlyphs">DFmP-SN,</text>
<text x="539.38" y="218.06" font-size="19.3" textLength="10.69" lengthAdjust="spacingAndGlyphs" font-style="italic">n</text>
<text x="554.51" y="218.06" font-size="19.3" textLength="14.18" lengthAdjust="spacingAndGlyphs">=</text>
<text x="573.59" y="218.06" font-size="19.3" textLength="44.9" lengthAdjust="spacingAndGlyphs">5000</text>
<path d="M391.6 237.94 L427.1 237.94" fill="none" stroke="#bcbd22" stroke-width="1.85" stroke-linejoin="round" stroke-linecap="butt" stroke-dasharray="1.85 3.05"/>
<polygon points="409.5,234.34 408.69,236.83 406.08,236.83 408.19,238.36 407.38,240.85 409.5,239.32 411.62,240.85 410.81,238.36 412.92,236.83 410.31,236.83" fill="#bcbd22" stroke="#bcbd22" stroke-width="0.9" stroke-linejoin="round"/>
<text x="442.65" y="244.54" font-size="19.3" textLength="91.04" lengthAdjust="spacingAndGlyphs">DFmP-SN,</text>
<text x="539.38" y="244.54" font-size="19.3" textLength="10.69" lengthAdjust="spacingAndGlyphs" font-style="italic">n</text>
<text x="554.51" y="244.54" font-size="19.3" textLength="14.18" lengthAdjust="spacingAndGlyphs">=</text>
<text x="573.38" y="244.54" font-size="19.3" textLength="56.62" lengthAdjust="spacingAndGlyphs">20000</text>
</g>
</svg>
</body></html>
